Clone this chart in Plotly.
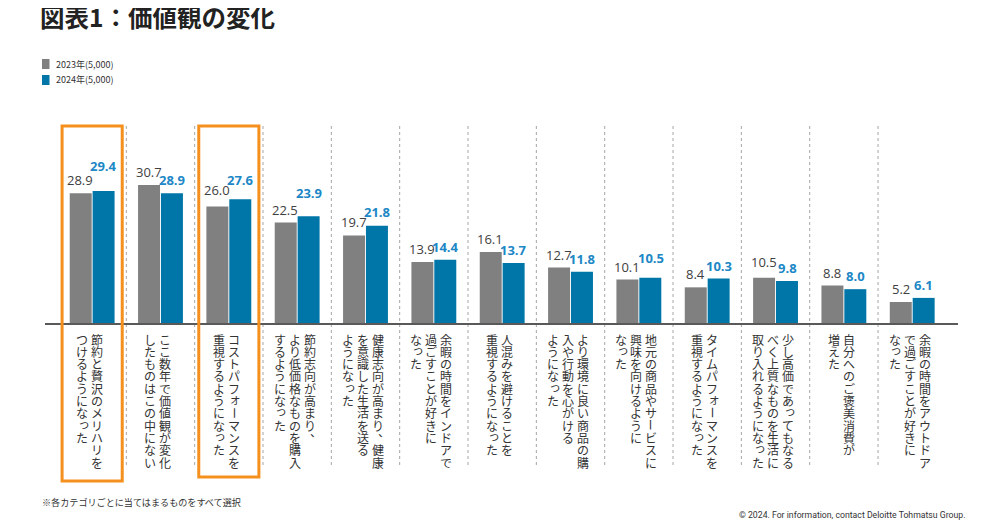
import plotly.graph_objects as go

# ---------------- data ----------------
series_names = ["2023年(5,000)", "2024年(5,000)"]

# each category label, split into its vertical columns (right column first)
label_columns = [
    ["節約と贅沢のメリハリを", "つけるようになった"],
    ["ここ数年で価値観が変化", "したものはこの中にない"],
    ["コストパフォーマンスを", "重視するようになった"],
    ["節約志向が高まり、", "より低価格なものを購入", "するようになった"],
    ["健康志向が高まり、健康", "を意識した生活を送る", "ようになった"],
    ["余暇の時間をインドアで", "過ごすことが好きに", "なった"],
    ["人混みを避けることを", "重視するようになった"],
    ["より環境に良い商品の購", "入や行動を心がける", "ようになった"],
    ["地元の商品やサービスに", "興味を向けるように", "なった"],
    ["タイムパフォーマンスを", "重視するようになった"],
    ["少し高価であってもなる", "べく上質なものを生活に", "取り入れるようになった"],
    ["自分へのご褒美消費が", "増えた"],
    ["余暇の時間をアウトドア", "で過ごすことが好きに", "なった"],
]
categories = ["".join(c) for c in label_columns]

values_2023 = [28.9, 30.7, 26.0, 22.5, 19.7, 13.9, 16.1, 12.7, 10.1, 8.4, 10.5, 8.8, 5.2]
values_2024 = [29.4, 28.9, 27.6, 23.9, 21.8, 14.4, 13.7, 11.8, 10.5, 10.3, 9.8, 8.0, 6.1]

highlighted = [0, 2]  # categories framed in orange

title_text = "図表1：価値観の変化"
footnote_text = "※各カテゴリごとに当てはまるものをすべて選択"
copyright_text = "© 2024. For information, contact Deloitte Tohmatsu Group."

# extra lift (px) of value labels, as laid out in the original
lift_2023 = [0, 0, 4, 0, 0, 0, 0, 0, 0, 0, 3, 0, 0]
lift_2024 = [12, 0, 6, 10, 1, 0, 0, 0, 7, 0, 0, 0, 0]

# ---------------- layout geometry (screen pixels) ----------------
OFF = 8                      # default page body margin
W, H = 1000 - OFF, 525 - OFF
PLOT_L, PLOT_R, PLOT_T, PLOT_B = 45, 958, 123, 323   # plot area on screen
ML, MR = PLOT_L - OFF, 1000 - PLOT_R
MT, MB = PLOT_T - OFF, 525 - PLOT_B
PW = PLOT_R - PLOT_L
PH = PLOT_B - PLOT_T


def px_x(px):
    return (px - PLOT_L) / PW


def px_y(py):
    return (PLOT_B - py) / PH


GRAY = "#808080"
BLUE = "#0076A8"
ORANGE = "#F5901E"
JP = "Noto Sans CJK JP"
NUM = "Open Sans"

idx = list(range(len(categories)))

fig = go.Figure()
fig.add_trace(go.Bar(x=idx, y=values_2023, name=series_names[0],
                     marker=dict(color=GRAY, line=dict(width=0)),
                     customdata=categories, showlegend=False,
                     hovertemplate="%{customdata}<br>%{y:.1f}<extra>" + series_names[0] + "</extra>"))
fig.add_trace(go.Bar(x=idx, y=values_2024, name=series_names[1],
                     marker=dict(color=BLUE, line=dict(width=0)),
                     customdata=categories, showlegend=False,
                     hovertemplate="%{customdata}<br>%{y:.1f}<extra>" + series_names[1] + "</extra>"))

annotations = []
shapes = []

# value labels
for i in idx:
    annotations.append(dict(x=i, y=values_2023[i], xref="x", yref="y",
                            text=f"{values_2023[i]:.1f}", showarrow=False,
                            xshift=-11.7, yshift=13 + lift_2023[i], yanchor="middle",
                            font=dict(family=NUM, size=13, color="#404040")))
    annotations.append(dict(x=i, y=values_2024[i], xref="x", yref="y",
                            text=f"<b>{values_2024[i]:.1f}</b>", showarrow=False,
                            xshift=11.7, yshift=13 + lift_2024[i], yanchor="middle",
                            font=dict(family=NUM, size=13, color="#2087C6")))

# vertical (tategaki) category labels, one annotation per character
SMALL = set("っゃゅょぁぃぅぇぉッャュョァィゥェォ")
COL_STEP = 15
CHAR_STEP = 12.3
FIRST = 16  # px below baseline to first char centre
for i, cols in enumerate(label_columns):
    n = len(cols)
    for j, col in enumerate(cols):
        xoff = ((n - 1) / 2 - j) * COL_STEP - 2.5
        for k, ch in enumerate(col):
            dx, dy, ang = 0, 0, 0
            if ch == "ー":
                ang = 90
            elif ch in "、。":
                dx, dy = 6, 6
            elif ch in SMALL:
                dx, dy = 1.5, 2
            annotations.append(dict(x=i, y=0, xref="x", yref="paper",
                                    text=ch, showarrow=False, textangle=ang,
                                    xanchor="center", yanchor="middle",
                                    xshift=xoff + dx,
                                    yshift=-(FIRST + k * CHAR_STEP) + dy,
                                    font=dict(family=JP, size=12, color="#333333")))

# dotted separators
for i in idx[:-1]:
    shapes.append(dict(type="line", xref="x", yref="paper",
                       x0=i + 0.5, x1=i + 0.5, y0=px_y(465), y1=px_y(123),
                       line=dict(color="#A6A6A6", width=1, dash="dot"), layer="below"))

# orange highlight frames
frame_bottom = {0: 481, 2: 477}
for i in highlighted:
    shapes.append(dict(type="rect", xref="x", yref="paper",
                       x0=i - 0.44, x1=i + 0.44, y0=px_y(frame_bottom[i]), y1=px_y(126),
                       line=dict(color=ORANGE, width=3), fillcolor="rgba(0,0,0,0)"))

# legend (compact, as in the original)
legend_rows = [(series_names[0], GRAY, 64), (series_names[1], BLUE, 80)]
for name, color, cy in legend_rows:
    shapes.append(dict(type="rect", xref="paper", yref="paper",
                       x0=px_x(42), x1=px_x(49.5), y0=px_y(cy + 5), y1=px_y(cy - 5),
                       line=dict(width=0), fillcolor=color))
    annotations.append(dict(x=px_x(54), y=px_y(cy), xref="paper", yref="paper",
                            text=name, showarrow=False, xanchor="left", yanchor="middle",
                            font=dict(family=JP, size=9, color="#333333")))

# footnote and copyright
annotations.append(dict(x=px_x(40), y=px_y(502), xref="paper", yref="paper",
                        text=footnote_text, showarrow=False, xanchor="left", yanchor="middle",
                        font=dict(family=JP, size=9.1, color="#333333")))
annotations.append(dict(x=px_x(967), y=px_y(515), xref="paper", yref="paper",
                        text=copyright_text, showarrow=False, xanchor="right", yanchor="middle",
                        font=dict(family="Roboto", size=8.7, color="#333333")))

base = 0.63
scale = 4.59  # px per unit
fig.update_layout(
    width=W, height=H,
    margin=dict(l=ML, r=MR, t=MT, b=MB, pad=0),
    paper_bgcolor="white", plot_bgcolor="white",
    title=dict(text=f"<b>{title_text}</b>", x=(40 - OFF) / W, xref="container", xanchor="left",
               y=1 - (18 - OFF) / H, yref="container", yanchor="middle",
               font=dict(family=JP, size=24.5, color="#222222")),
    barmode="group", bargap=0.33, bargroupgap=0.04,
    showlegend=False,
    xaxis=dict(range=[-0.69, 12.67], showticklabels=False, ticks="", showgrid=False,
               zeroline=False, showline=True, linecolor="#595959", linewidth=1.5,
               fixedrange=True),
    yaxis=dict(range=[base, base + PH / scale], visible=False, showgrid=False,
               zeroline=False, fixedrange=True),
    annotations=annotations,
    shapes=shapes,
)

fig.write_html("out.html")
